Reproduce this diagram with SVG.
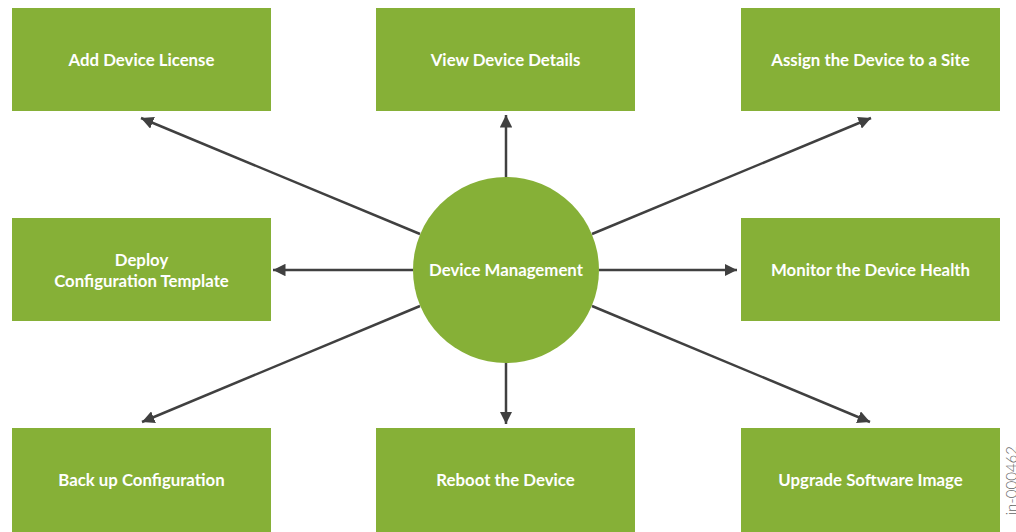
<svg xmlns="http://www.w3.org/2000/svg" width="1016" height="532" viewBox="0 0 1016 532">
<defs>
<style>
.box{fill:#86b037;}
.lbl{font-family:Lato,"Liberation Sans",sans-serif;font-weight:bold;font-size:16.8px;fill:#ffffff;text-anchor:middle;}
.ln{stroke:#404040;stroke-width:2.5;fill:none;marker-end:url(#ah);}
.id{font-family:Lato,"Liberation Sans",sans-serif;font-weight:300;font-size:15px;fill:#666666;text-anchor:end;}
</style>
<marker id="ah" viewBox="0 0 10 10" refX="10" refY="5" markerWidth="5" markerHeight="5" markerUnits="strokeWidth" orient="auto">
<path d="M0,0 L10,5 L0,10 z" fill="#404040"/>
</marker>
</defs>
<rect width="1016" height="532" fill="#ffffff"/>
<g id="connectors">
<line class="ln" x1="506" y1="177" x2="506" y2="115"/>
<line class="ln" x1="506" y1="363" x2="506" y2="424"/>
<line class="ln" x1="413" y1="270" x2="273" y2="270"/>
<line class="ln" x1="599" y1="270" x2="737" y2="270"/>
<line class="ln" x1="420" y1="234" x2="141" y2="118"/>
<line class="ln" x1="592" y1="234" x2="871" y2="118"/>
<line class="ln" x1="420" y1="306" x2="142" y2="422"/>
<line class="ln" x1="592" y1="306" x2="870" y2="422"/>
</g>
<g id="center">
<circle class="box" cx="506" cy="270" r="93"/>
<text class="lbl" x="506" y="276">Device Management</text>
</g>
<g id="add-license">
<rect class="box" x="12" y="8" width="259" height="103"/>
<text class="lbl" x="141.5" y="66">Add Device License</text>
</g>
<g id="view-details">
<rect class="box" x="376" y="8" width="259" height="103"/>
<text class="lbl" x="505.5" y="66">View Device Details</text>
</g>
<g id="assign-site">
<rect class="box" x="741" y="8" width="259" height="103"/>
<text class="lbl" x="870.5" y="66">Assign the Device to a Site</text>
</g>
<g id="deploy-template">
<rect class="box" x="12" y="218" width="259" height="103"/>
<text class="lbl" x="141.5" y="266">Deploy</text>
<text class="lbl" x="141.5" y="287">Configuration Template</text>
</g>
<g id="monitor-health">
<rect class="box" x="741" y="218" width="259" height="103"/>
<text class="lbl" x="870.5" y="276">Monitor the Device Health</text>
</g>
<g id="backup">
<rect class="box" x="12" y="428" width="259" height="110"/>
<text class="lbl" x="141.5" y="486">Back up Configuration</text>
</g>
<g id="reboot">
<rect class="box" x="376" y="428" width="259" height="110"/>
<text class="lbl" x="505.5" y="486">Reboot the Device</text>
</g>
<g id="upgrade">
<rect class="box" x="741" y="428" width="259" height="110"/>
<text class="lbl" x="870.5" y="486">Upgrade Software Image</text>
</g>
<text class="id" transform="translate(1017,446) rotate(-90)">jn-000462</text>
</svg>
